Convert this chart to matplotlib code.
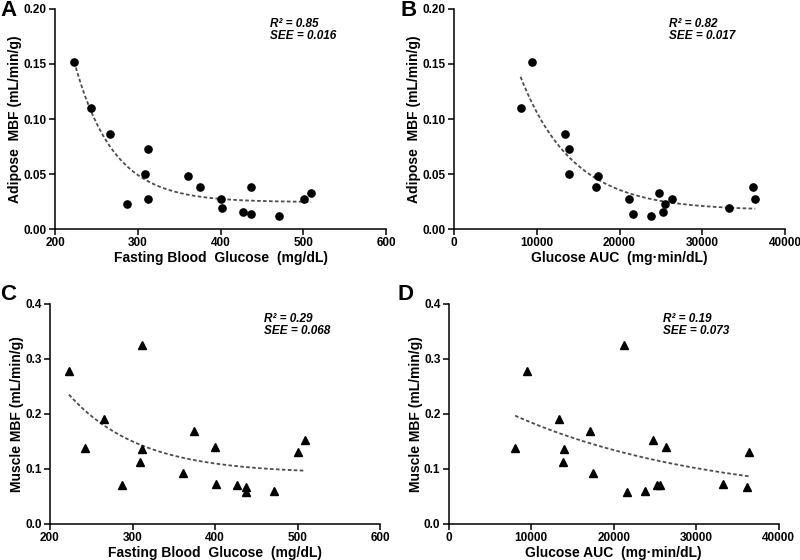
import numpy as np
import matplotlib
matplotlib.use('Agg')
import matplotlib.pyplot as plt

plt.rcParams['font.family'] = ['Liberation Sans', 'DejaVu Sans']
plt.rcParams['font.weight'] = 'bold'

# per-subject values
fbg = [223, 243, 266, 287, 309, 312, 312, 361, 375, 400, 401, 427, 437, 437, 471, 501, 509]
auc = [9450, 8040, 13370, 25550, 13870, 13950, 21200, 17450, 17100, 26300,
       33210, 25290, 36160, 21570, 23750, 36400, 24740]
adipose_mbf = [0.1515, 0.1097, 0.086, 0.023, 0.050, 0.0724, 0.027, 0.048, 0.0378,
               0.0275, 0.019, 0.0158, 0.038, 0.0139, 0.0118, 0.0273, 0.0324]
muscle_mbf = [0.277, 0.138, 0.191, 0.0706, 0.112, 0.137, 0.326, 0.093, 0.169,
              0.1406, 0.0733, 0.0709, 0.0667, 0.0585, 0.060, 0.130, 0.153]

stats_a = ('0.85', '0.016')
stats_b = ('0.82', '0.017')
stats_c = ('0.29', '0.068')
stats_d = ('0.19', '0.073')


def decay_fit(x, y):
    # one-phase decay: y = span*exp(-k*x) + plateau, k by grid search
    x = np.asarray(x, float)
    y = np.asarray(y, float)
    x0 = x.min()
    scale = x.max() - x.min()
    best = None
    for k in np.logspace(-3, 2, 2000):
        A = np.column_stack([np.exp(-k * (x - x0) / scale), np.ones_like(x)])
        coef, res, _, _ = np.linalg.lstsq(A, y, rcond=None)
        sse = np.sum((A @ coef - y) ** 2)
        if best is None or sse < best[0]:
            best = (sse, k, coef)
    _, k, coef = best
    xs = np.linspace(x.min(), x.max(), 200)
    ys = coef[0] * np.exp(-k * (xs - x0) / scale) + coef[1]
    return xs, ys


def panel(rect, x, y, marker, xlim, xticks, ylim, yticks, yfmt, xlabel, ylabel, stats, letter, letter_pos):
    ax = fig.add_axes(rect)
    xs, ys = decay_fit(x, y)
    ax.plot(xs, ys, color='0.3', lw=1.3, ls=(0, (2, 1.3)), zorder=1)
    ax.plot(x, y, ls='none', marker=marker, color='black',
            markersize=5.2 if marker == 'o' else 5.8, zorder=2, clip_on=False)
    ax.set_xlim(*xlim)
    ax.set_ylim(*ylim)
    ax.set_xticks(xticks)
    ax.set_yticks(yticks)
    ax.set_yticklabels([yfmt.format(v) for v in yticks])
    for s in ['top', 'right']:
        ax.spines[s].set_visible(False)
    for s in ['left', 'bottom']:
        ax.spines[s].set_linewidth(1.1)
    ax.tick_params(direction='out', length=4, width=1.1, labelsize=8.5, pad=2)
    for lab in ax.get_xticklabels() + ax.get_yticklabels():
        lab.set_fontweight('bold')
    ax.set_xlabel(xlabel, fontsize=10, fontweight='bold', labelpad=1)
    ax.set_ylabel(ylabel, fontsize=10, fontweight='bold', labelpad=1)
    ax.text(0.65, 0.93, u'R\u00b2 = ' + stats[0], transform=ax.transAxes,
            fontsize=8.5, fontweight='bold', style='italic', va='center')
    ax.text(0.65, 0.875, 'SEE = ' + stats[1], transform=ax.transAxes,
            fontsize=8.5, fontweight='bold', style='italic', va='center')
    fig.text(letter_pos[0], letter_pos[1], letter, fontsize=16, fontweight='bold',
             va='top', ha='left')
    return ax


fig = plt.figure(figsize=(8, 5.6), dpi=100)

panel([0.069, 0.591, 0.4138, 0.393], fbg, adipose_mbf, 'o', (200, 600), [200, 300, 400, 500, 600],
      (0, 0.2), [0, 0.05, 0.10, 0.15, 0.20], '{:.2f}',
      'Fasting Blood  Glucose  (mg/dL)', 'Adipose  MBF (mL/min/g)', stats_a, 'A', (0.0, 1.0))
panel([0.5675, 0.591, 0.4138, 0.393], auc, adipose_mbf, 'o', (0, 40000), [0, 10000, 20000, 30000, 40000],
      (0, 0.2), [0, 0.05, 0.10, 0.15, 0.20], '{:.2f}',
      u'Glucose AUC  (mg\u00b7min/dL)', 'Adipose  MBF (mL/min/g)', stats_b, 'B', (0.5, 1.0))
panel([0.0625, 0.0645, 0.4125, 0.393], fbg, muscle_mbf, '^', (200, 600), [200, 300, 400, 500, 600],
      (0, 0.4), [0, 0.1, 0.2, 0.3, 0.4], '{:.1f}',
      'Fasting Blood  Glucose  (mg/dL)', 'Muscle MBF (mL/min/g)', stats_c, 'C', (0.0, 0.493))
panel([0.561, 0.0645, 0.4125, 0.393], auc, muscle_mbf, '^', (0, 40000), [0, 10000, 20000, 30000, 40000],
      (0, 0.4), [0, 0.1, 0.2, 0.3, 0.4], '{:.1f}',
      u'Glucose AUC  (mg\u00b7min/dL)', 'Muscle MBF (mL/min/g)', stats_d, 'D', (0.497, 0.493))

fig.savefig('out.png', dpi=100)
